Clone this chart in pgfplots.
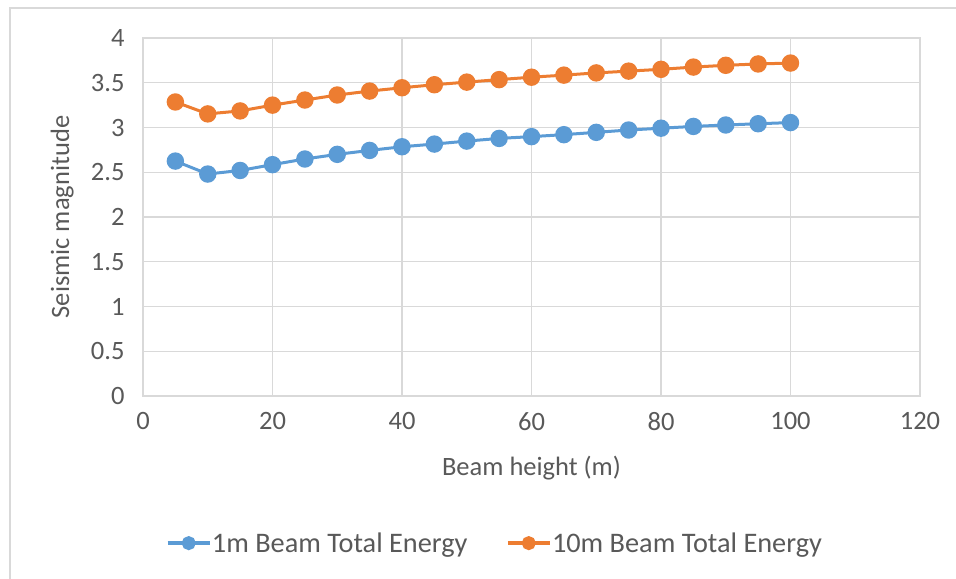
\documentclass[border=0pt]{standalone}
\usepackage{pgfplots}
\pgfplotsset{compat=1.18}
\usepackage{fontspec}
\setmainfont{Carlito}
\definecolor{cblue}{HTML}{5B9BD5}
\definecolor{corange}{HTML}{ED7D31}
\definecolor{gridc}{HTML}{D9D9D9}
\definecolor{txt}{HTML}{595959}
\begin{document}
\begin{tikzpicture}
\path[use as bounding box] (0,0) rectangle (956bp,579bp);
\draw[gridc, line width=1.5bp] (10bp,0bp) -- (10bp,571bp) -- (956bp,571bp);
\begin{axis}[at={(143bp,183bp)}, anchor=south west, scale only axis,
  width=777bp, height=358bp,
  xmin=0, xmax=120, ymin=0, ymax=4,
  xtick={0,20,...,120}, ytick={0,0.5,...,4},
  grid=major, major grid style={gridc, line width=1.3bp},
  axis line style={gridc, line width=1.3bp},
  major tick length=0pt,
  /pgf/number format/assume math mode=true,
  tick label style={font=\fontsize{26.5bp}{31bp}\selectfont, text=txt},
  xticklabel style={anchor=north, yshift=-13bp},
  yticklabel style={anchor=east, xshift=-15bp},
  label style={font=\fontsize{26.5bp}{31bp}\selectfont, text=txt},
  xlabel={Beam height (m)},
  ylabel={Seismic magnitude},
  xlabel style={at={(axis description cs:0.5,-0.201)}, anchor=center},
  ylabel style={at={(axis description cs:-0.104,0.5)}, anchor=center},
  legend columns=2,
  legend style={at={(axis description cs:0.452,-0.411)}, anchor=center, draw=none,
    font=\fontsize{28.3bp}{33bp}\selectfont, text=txt, inner sep=0pt,
    /tikz/every odd column/.append style={column sep=0bp},
    /tikz/every even column/.append style={column sep=38bp},
    nodes={inner sep=0.5bp}},
  legend image code/.code={
    \draw[#1, mark=none, line width=3.5bp] (0bp,0bp) -- (42bp,0bp);
    \fill[#1] (21bp,0bp) circle (5.5bp);
  },
]
\addplot[color=cblue, line width=3bp, mark=*, mark size=7.2bp] coordinates {
(5,2.625) (10,2.48) (15,2.52) (20,2.585) (25,2.648) (30,2.70) (35,2.744) (40,2.785)
(45,2.815) (50,2.848) (55,2.878) (60,2.898) (65,2.92) (70,2.946) (75,2.972)
(80,2.992) (85,3.012) (90,3.028) (95,3.042) (100,3.055)
};
\addlegendentry{1m Beam Total Energy}
\addplot[color=corange, line width=3bp, mark=*, mark size=7.2bp] coordinates {
(5,3.285) (10,3.152) (15,3.185) (20,3.25) (25,3.307) (30,3.363) (35,3.407) (40,3.444)
(45,3.478) (50,3.507) (55,3.535) (60,3.562) (65,3.585) (70,3.61) (75,3.63)
(80,3.65) (85,3.675) (90,3.695) (95,3.71) (100,3.72)
};
\addlegendentry{10m Beam Total Energy}
\end{axis}
\end{tikzpicture}
\end{document}
